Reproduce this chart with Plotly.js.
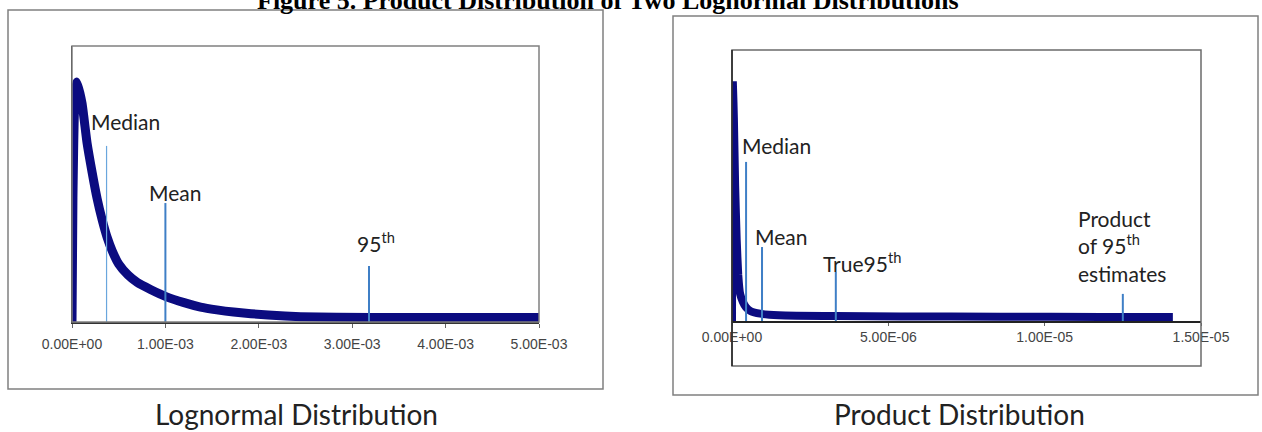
<!DOCTYPE html>
<html>
<head>
<meta charset="utf-8">
<script src="https://cdn.plot.ly/plotly-3.0.1.min.js"></script>
<style>html,body{margin:0;padding:0;background:#fff;}#chart{width:1262px;height:432px;}</style>
</head>
<body>
<div id="chart"></div>
<script>
// ---- Data ----
const figureTitle = "Figure 5. Product Distribution of Two Lognormal Distributions";
const panelCaptions = ["Lognormal Distribution", "Product Distribution"];

// Left panel: lognormal density (relative height)
const lognormX = [0, 0.00001, 0.00003, 0.000054, 0.000107, 0.000161, 0.000215, 0.000269, 0.000323, 0.000376, 0.00043, 0.0005, 0.0006, 0.0007, 0.00084, 0.001, 0.0012, 0.001376, 0.00155, 0.00173, 0.0021, 0.00245, 0.0032, 0.00406, 0.005];
const lognormY = [0, 0.45, 0.80, 0.870, 0.793, 0.649, 0.543, 0.447, 0.370, 0.307, 0.258, 0.210, 0.170, 0.143, 0.118, 0.093, 0.070, 0.054, 0.044, 0.036, 0.025, 0.019, 0.016, 0.016, 0.016];
const lognormMarkerNames = ["Median", "Mean", "95<sup>th</sup>"];
const lognormMarkerX = [0.00037, 0.001, 0.00318];
const lognormMarkerTop = [0.638, 0.431, 0.203];
const lognormTickVals = [0, 0.001, 0.002, 0.003, 0.004, 0.005];
const lognormTickText = ["0.00E+00", "1.00E-03", "2.00E-03", "3.00E-03", "4.00E-03", "5.00E-03"];

// Right panel: product distribution density (relative height)
const productX = [0, 0.00000001, 0.00000003, 0.00000006, 0.0000001, 0.00000015, 0.0000002, 0.00000026, 0.00000035, 0.00000045, 0.0000006, 0.0000009, 0.0000015, 0.0000033, 0.0000054, 0.0000086, 0.0000118, 0.0000141];
const productY = [0, 0.5, 0.87, 0.75, 0.5, 0.3, 0.17, 0.10, 0.07, 0.05, 0.036, 0.027, 0.021, 0.018, 0.017, 0.016, 0.015, 0.015];
const productMarkerNames = ["Median", "Mean", "True95<sup>th</sup>", "Product<br>of 95<sup>th</sup><br>estimates"];
const productMarkerX = [0.00000045, 0.00000096, 0.00000332, 0.0000125];
const productMarkerTop = [0.587, 0.273, 0.181, 0.10];
const productTickVals = [0, 0.000005, 0.00001, 0.000015];
const productTickText = ["0.00E+00", "5.00E-06", "1.00E-05", "1.50E-05"];

// ---- Styling / layout ----
const W = 1262, H = 432;
const px = v => v / W;
const py = v => 1 - v / H;
const curveColor = "#0b0b80";
const markColor = "#3f7fc6";
const labelFont = {family: "Lato, 'Open Sans', sans-serif", size: 21, color: "#222"};
const tickFont = {family: "'Liberation Sans', Arial, sans-serif", size: 14, color: "#444"};

const traces = [
  {x: lognormX, y: lognormY, xaxis: "x", yaxis: "y", mode: "lines", line: {color: curveColor, width: 9, shape: "spline", smoothing: 0.5}, hoverinfo: "skip"},
  {x: productX, y: productY, xaxis: "x2", yaxis: "y2", mode: "lines", line: {color: curveColor, width: 8, shape: "spline", smoothing: 0.4}, hoverinfo: "skip"}
];
lognormMarkerX.forEach((v, i) => traces.push({x: [v, v], y: [0, lognormMarkerTop[i]], xaxis: "x", yaxis: "y", mode: "lines", line: {color: i === 0 ? "#6aa6dd" : markColor, width: i === 0 ? 1.2 : 2}, hoverinfo: "skip"}));
productMarkerX.forEach((v, i) => traces.push({x: [v, v], y: [0, productMarkerTop[i]], xaxis: "x2", yaxis: "y2", mode: "lines", line: {color: markColor, width: 2}, hoverinfo: "skip"}));

// label placement (layout, not data)
const lognormLabelPos = [{x: 0.00018, y: 0.728, xa: "left"}, {x: 0.0008, y: 0.47, xa: "left"}, {x: 0.00326, y: 0.29, xa: "center"}];
const productLabelPos = [{x: 0.00000026, y: 0.646, xa: "left"}, {x: 0.00000067, y: 0.31, xa: "left"}, {x: 0.00000284, y: 0.218, xa: "left"}, {x: 0.0000110, y: 0.277, xa: "left"}];

const annotations = [];
lognormMarkerNames.forEach((t, i) => annotations.push({xref: "x", yref: "y", x: lognormLabelPos[i].x, y: lognormLabelPos[i].y, text: t, showarrow: false, xanchor: lognormLabelPos[i].xa, yanchor: "middle", font: labelFont}));
productMarkerNames.forEach((t, i) => annotations.push({xref: "x2", yref: "y2", x: productLabelPos[i].x, y: productLabelPos[i].y, text: t, showarrow: false, xanchor: productLabelPos[i].xa, yanchor: "middle", align: "left", font: labelFont}));
annotations.push({xref: "paper", yref: "paper", x: px(608), y: py(0), text: "<b>" + figureTitle + "</b>", showarrow: false, xanchor: "center", yanchor: "middle", font: {family: "'Liberation Serif', 'Times New Roman', serif", size: 26, color: "#000"}});
annotations.push({xref: "paper", yref: "paper", x: px(296), y: py(414), text: panelCaptions[0], showarrow: false, xanchor: "center", yanchor: "middle", borderpad: 0, font: {family: "Lato, sans-serif", size: 28, color: "#222"}});
annotations.push({xref: "paper", yref: "paper", x: px(959), y: py(414), text: panelCaptions[1], showarrow: false, xanchor: "center", yanchor: "middle", borderpad: 0, font: {family: "Lato, sans-serif", size: 28, color: "#222"}});

const shapes = [
  // outer frames
  {type: "rect", xref: "paper", yref: "paper", x0: px(8), x1: px(603), y0: py(389), y1: py(10), line: {color: "#808080", width: 1.5}},
  {type: "rect", xref: "paper", yref: "paper", x0: px(673), x1: px(1258), y0: py(395), y1: py(16), line: {color: "#808080", width: 1.5}},
  // left inner plot box
  {type: "rect", xref: "paper", yref: "paper", x0: px(72), x1: px(539), y0: py(322), y1: py(46), line: {color: "#808080", width: 1.5}},
  // right inner plot box (extends below the axis)
  {type: "rect", xref: "paper", yref: "paper", x0: px(732), x1: px(1201), y0: py(366), y1: py(50), line: {color: "#6b6b6b", width: 1.5}},
  {type: "line", xref: "paper", yref: "paper", x0: px(732), x1: px(732), y0: py(366), y1: py(50), line: {color: "#222", width: 1.5}}
];

const layout = {
  width: W, height: H,
  margin: {l: 0, r: 0, t: 0, b: 0},
  paper_bgcolor: "#fff", plot_bgcolor: "rgba(0,0,0,0)",
  showlegend: false,
  xaxis: {domain: [px(72), px(539)], range: [0, 0.005], tickmode: "array", tickvals: lognormTickVals, ticktext: lognormTickText, ticks: "outside", ticklen: 4, tickcolor: "#666", tickfont: tickFont, ticklabelstandoff: 5, showgrid: false, zeroline: false, showline: true, linecolor: "#333", linewidth: 1.5, anchor: "y"},
  yaxis: {domain: [py(322), py(46)], range: [0, 1], showticklabels: false, ticks: "", showgrid: false, zeroline: false, showline: true, linecolor: "#222", linewidth: 1.5, anchor: "x"},
  xaxis2: {domain: [px(732), px(1201)], range: [0, 0.000015], tickmode: "array", tickvals: productTickVals, ticktext: productTickText, ticks: "outside", ticklen: 3, tickcolor: "#666", tickfont: tickFont, ticklabelstandoff: 0, showgrid: false, zeroline: false, showline: true, linecolor: "#222", linewidth: 1.5, anchor: "y2"},
  yaxis2: {domain: [py(321), py(50)], range: [0, 1], showticklabels: false, ticks: "", showgrid: false, zeroline: false, showline: false, anchor: "x2"},
  annotations: annotations,
  shapes: shapes
};

Plotly.newPlot("chart", traces, layout, {staticPlot: true, displayModeBar: false});
</script>
</body>
</html>
